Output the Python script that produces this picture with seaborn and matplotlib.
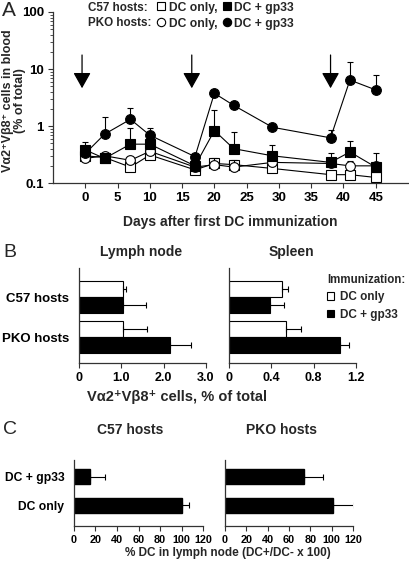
import numpy as np
import pandas as pd
import matplotlib
matplotlib.use('Agg')
import matplotlib.pyplot as plt
import seaborn as sns
from matplotlib.lines import Line2D
from matplotlib.patches import Patch

# ---- panel A: Va2+Vb8+ cells in blood over time ----
days = [0, 3, 7, 10, 17, 20, 23, 29, 38, 41, 45]
c57_dc_only = [0.30, 0.28, 0.19, 0.31, 0.17, 0.22, 0.21, 0.18, 0.14, 0.14, 0.125]
c57_dc_only_err = [0, 0, 0, 0, 0, 0, 0, 0, 0, 0, 0]
pko_dc_only = [0.27, 0.30, 0.25, 0.36, 0.19, 0.21, 0.19, 0.23, 0.22, 0.20, 0.20]
pko_dc_only_err = [0, 0, 0, 0.03, 0, 0.07, 0.06, 0.02, 0, 0.04, 0]
c57_gp33 = [0.38, 0.27, 0.48, 0.48, 0.20, 0.83, 0.40, 0.30, 0.23, 0.35, 0.19]
c57_gp33_err = [0.15, 0, 0.43, 0, 0, 1.07, 0.38, 0.17, 0.11, 0.20, 0.15]
pko_gp33 = [0.33, 0.72, 1.31, 0.69, 0.29, 3.75, 2.30, 0.95, 0.62, 6.4, 4.3]
pko_gp33_err = [0, 0.71, 0.73, 0.25, 0, 0, 0, 0, 0.24, 6.9, 3.6]
arrow_days = [-0.5, 16.5, 38]
x_ticks_a = [0, 5, 10, 15, 20, 25, 30, 35, 40, 45]
y_ticks_a = [0.1, 1, 10, 100]
y_ticklabels_a = ['0.1', '1', '10', '100']

# ---- panel B: lymph node / spleen ----
b_hosts = ['C57 hosts', 'PKO hosts']
immunization = ['DC only', 'DC + gp33']
ln_dc_only = [1.05, 1.05]
ln_dc_only_err = [0.05, 0.55]
ln_gp33 = [1.03, 2.14]
ln_gp33_err = [0.55, 0.50]
spl_dc_only = [0.50, 0.54]
spl_dc_only_err = [0.06, 0.14]
spl_gp33 = [0.39, 1.05]
spl_gp33_err = [0.13, 0.08]

# ---- panel C: % DC in lymph node ----
c_groups = ['DC + gp33', 'DC only']
c57_pct = [15, 100]
c57_pct_err = [14, 7]
pko_pct = [74, 101]
pko_pct_err = [18, 20]

sns.set_theme(style='ticks')
plt.rcParams['font.family'] = ['Liberation Sans', 'DejaVu Sans']
plt.rcParams['font.weight'] = 'bold'
plt.rcParams['axes.labelweight'] = 'bold'
plt.rcParams['axes.linewidth'] = 0.9
plt.rcParams['axes.edgecolor'] = '#333333'
plt.rcParams['xtick.color'] = '#333333'
plt.rcParams['ytick.color'] = '#333333'
plt.rcParams['xtick.labelcolor'] = 'black'
plt.rcParams['ytick.labelcolor'] = 'black'

W, H = 410, 572
fig = plt.figure(figsize=(W / 100, H / 100), dpi=100)


def box(l, t, r, b):
    return [l / W, 1 - b / H, (r - l) / W, (b - t) / H]


def fx(px):
    return px / W


def fy(py):
    return 1 - py / H


# ================= A =================
axA = fig.add_axes(box(53, 12, 408, 183))
series = [
    (c57_dc_only, c57_dc_only_err, 's', 'white', 4),
    (pko_dc_only, pko_dc_only_err, 'o', 'white', 5),
    (pko_gp33, pko_gp33_err, 'o', 'black', 6),
    (c57_gp33, c57_gp33_err, 's', 'black', 7),
]
for vals, err, mk, fc, z in series:
    sns.lineplot(x=days, y=vals, ax=axA, color='black', lw=0.8, marker=mk, ms=7,
                 mfc=fc, mec='black', mew=0.8, zorder=z, legend=False)
    d = [x for x, e in zip(days, err) if e > 0]
    v = [y for y, e in zip(vals, err) if e > 0]
    e = [e for e in err if e > 0]
    if d:
        axA.errorbar(d, v, yerr=[np.zeros(len(e)), e], fmt='none', ecolor='black',
                     elinewidth=0.8, capsize=2.5, capthick=0.8, zorder=z - 0.5)

for d in arrow_days:
    axA.annotate('', xy=(d, 4.6), xytext=(d, 17.6),
                 arrowprops=dict(arrowstyle='-|>,head_length=0.8,head_width=0.45',
                                 color='black', lw=0.9, shrinkA=0, shrinkB=0))

axA.set_yscale('log')
axA.set_ylim(0.1, 100)
axA.set_yticks(y_ticks_a)
axA.set_yticklabels(y_ticklabels_a)
axA.set_xlim(-5, 50)
axA.set_xticks(x_ticks_a)
axA.tick_params(axis='both', labelsize=9.5, length=3.5, width=0.8, pad=3)
axA.tick_params(axis='y', which='minor', length=2, width=0.6)
axA.set_xlabel('Days after first DC immunization', fontsize=10, labelpad=8)
axA.set_ylabel('')
sns.despine(ax=axA)
fig.text(fx(14), fy(101), 'Vα2⁺Vβ8⁺ cells in blood\n(% of total)', fontsize=9,
         rotation=90, ha='center', va='center', multialignment='center',
         linespacing=0.95)

# legend A
fig.text(fx(88), fy(8), 'C57 hosts:', fontsize=8.4, va='center', ha='left')
fig.text(fx(88), fy(23), 'PKO hosts:', fontsize=8.4, va='center', ha='left')
hA = [Line2D([], [], ls='', marker='s', ms=6, mfc='white', mec='black', mew=0.8),
      Line2D([], [], ls='', marker='o', ms=6, mfc='white', mec='black', mew=0.8),
      Line2D([], [], ls='', marker='s', ms=6, mfc='black', mec='black', mew=0.8),
      Line2D([], [], ls='', marker='o', ms=6, mfc='black', mec='black', mew=0.8)]
fig.legend(handles=hA, labels=['DC only,', 'DC only,', 'DC + gp33', 'DC + gp33'],
           ncol=2, loc='upper left', bbox_to_anchor=(fx(157), fy(1.5)), frameon=False,
           fontsize=8.7, handlelength=0.7, handletextpad=0.3, columnspacing=0.4,
           labelspacing=0.35, borderpad=0, borderaxespad=0)

# ================= B =================
def hbars(ax, cats, a, a_err, b, b_err, xmax, ticks, labels, show_y):
    df = pd.DataFrame({
        'host': cats * 2,
        'value': a + b,
        'imm': [immunization[0]] * len(cats) + [immunization[1]] * len(cats),
    })
    sns.barplot(data=df, y='host', x='value', hue='imm', hue_order=immunization,
                palette=['white', 'black'], edgecolor='black', linewidth=0.8,
                width=0.8, errorbar=None, legend=False, ax=ax, orient='h')
    for cont, err in zip(ax.containers, [a_err, b_err]):
        for bar, e in zip(cont, err):
            yc = bar.get_y() + bar.get_height() / 2
            ax.errorbar(bar.get_width(), yc, xerr=[[0], [e]], fmt='none',
                        ecolor='black', elinewidth=0.8, capsize=2.5, capthick=0.8)
    ax.set_xlim(0, xmax)
    ax.set_ylim(1.65, -0.725)
    ax.set_xticks(ticks)
    ax.set_xticklabels(labels)
    ax.set_xlabel('')
    ax.set_ylabel('')
    ax.tick_params(axis='x', labelsize=9, length=3.5, width=0.8, pad=3)
    ax.tick_params(axis='y', length=0, labelsize=9.5, pad=7)
    if not show_y:
        ax.set_yticklabels([])
    sns.despine(ax=ax)


axLN = fig.add_axes(box(79, 268, 206, 363))
hbars(axLN, b_hosts, ln_dc_only, ln_dc_only_err, ln_gp33, ln_gp33_err,
      3.0, [0, 1, 2, 3], ['0', '1.0', '2.0', '3.0'], True)
axSP = fig.add_axes(box(229, 268, 356, 363))
hbars(axSP, b_hosts, spl_dc_only, spl_dc_only_err, spl_gp33, spl_gp33_err,
      1.2, [0, 0.4, 0.8, 1.2], ['0', '0.4', '0.8', '1.2'], False)

fig.text(fx(141), fy(252), 'Lymph node', fontsize=10, ha='center', va='center')
fig.text(fx(291), fy(252), 'Spleen', fontsize=10, ha='center', va='center')
fig.text(fx(177), fy(397), 'Vα2⁺Vβ8⁺ cells, % of total', fontsize=10.5,
         ha='center', va='center')

fig.legend(handles=[Patch(fc='white', ec='black', lw=0.8), Patch(fc='black', ec='black', lw=0.8)],
           labels=immunization, title='Immunization:', loc='upper left',
           bbox_to_anchor=(fx(327), fy(274)), frameon=False, fontsize=8.5,
           title_fontproperties={'weight': 'bold', 'size': 8.3}, alignment='left',
           handlelength=0.6, handleheight=0.6, handletextpad=0.5, labelspacing=0.45,
           borderpad=0, borderaxespad=0)

# ================= C =================
def cbars(ax, vals, err, show_y):
    sns.barplot(x=vals, y=c_groups, color='black', edgecolor='black', width=0.52,
                errorbar=None, ax=ax, orient='h')
    for bar, e in zip(ax.patches, err):
        yc = bar.get_y() + bar.get_height() / 2
        ax.errorbar(bar.get_width(), yc, xerr=[[0], [e]], fmt='none',
                    ecolor='black', elinewidth=0.8, capsize=2.5, capthick=0.8)
    ax.set_xlim(0, 120)
    ax.set_ylim(1.71, -0.57)
    ax.set_xticks(range(0, 121, 20))
    ax.tick_params(axis='x', labelsize=7.8, length=3.5, width=0.8, pad=3)
    ax.tick_params(axis='y', length=0, labelsize=8.7, pad=7)
    if not show_y:
        ax.set_yticklabels([])
    sns.despine(ax=ax)


axC1 = fig.add_axes(box(74, 460, 203, 526))
cbars(axC1, c57_pct, c57_pct_err, True)
axC2 = fig.add_axes(box(225, 460, 353, 526))
cbars(axC2, pko_pct, pko_pct_err, False)

fig.text(fx(130), fy(430), 'C57 hosts', fontsize=10, ha='center', va='center')
fig.text(fx(282), fy(430), 'PKO hosts', fontsize=10, ha='center', va='center')
fig.text(fx(228), fy(553), '% DC in lymph node (DC+/DC- x 100)', fontsize=8.5,
         ha='center', va='center')

# panel letters
fig.text(fx(2), fy(10), 'A', fontsize=15, fontweight='normal', va='center', ha='left')
fig.text(fx(3), fy(252), 'B', fontsize=14, fontweight='normal', va='center', ha='left')
fig.text(fx(3), fy(430), 'C', fontsize=14, fontweight='normal', va='center', ha='left')

fig.savefig('out.png', dpi=100)
